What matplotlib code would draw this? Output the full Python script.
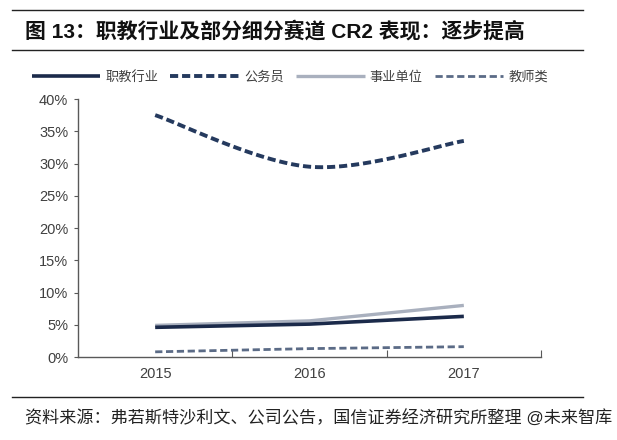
import numpy as np
import matplotlib
matplotlib.use("Agg")
import matplotlib.pyplot as plt
from matplotlib.lines import Line2D

plt.rcParams['font.family'] = ['Liberation Sans', 'Noto Sans CJK SC', 'DejaVu Sans']

years = ['2015', '2016', '2017']
zhijiao = [0.046, 0.051, 0.063]      # 职教行业
gongwuyuan = [0.375, 0.295, 0.335]   # 公务员
shiye = [0.049, 0.056, 0.080]        # 事业单位
jiaoshi = [0.008, 0.013, 0.016]      # 教师类
yticks = [0, 0.05, 0.10, 0.15, 0.20, 0.25, 0.30, 0.35, 0.40]
series_names = ['职教行业', '公务员', '事业单位', '教师类']


def smooth(xs, ys, n=40):
    xs = np.asarray(xs, float)
    ys = np.asarray(ys, float)
    P = np.column_stack([xs, ys])
    pts = []
    m = len(P)
    for i in range(m - 1):
        p0 = P[max(i - 1, 0)]
        p1 = P[i]
        p2 = P[i + 1]
        p3 = P[min(i + 2, m - 1)]
        c1 = p1 + (p2 - p0) / 6.0
        c2 = p2 - (p3 - p1) / 6.0
        t = np.linspace(0, 1, n)[:, None]
        seg = ((1 - t) ** 3) * p1 + 3 * ((1 - t) ** 2) * t * c1 + 3 * (1 - t) * t ** 2 * c2 + t ** 3 * p2
        pts.append(seg if i == 0 else seg[1:])
    pts = np.vstack(pts)
    return pts[:, 0], pts[:, 1]


fig = plt.figure(figsize=(6.17, 4.40), dpi=100)
ax = fig.add_axes([78 / 617, 1 - 357 / 440, (541 - 78) / 617, (357 - 99) / 440])

x = np.arange(len(years))
ax.plot(x, zhijiao, color='#1B2A4A', lw=2.6, solid_capstyle='butt', label=series_names[0], zorder=4)
sx, sy = smooth(x, gongwuyuan)
ax.plot(sx, sy, color='#253A5E', lw=2.8, ls=(0, (2.1, 1.0)), label=series_names[1], zorder=3)
ax.plot(x, shiye, color='#A9B0BE', lw=2.4, solid_capstyle='butt', label=series_names[2], zorder=3)
ax.plot(x, jiaoshi, color='#5B6B86', lw=2.0, ls=(0, (2.6, 1.3)), label=series_names[3], zorder=3)

ax.set_xlim(-0.5, 2.5)
ax.set_ylim(0, 0.40)
ax.set_yticks(yticks)
ax.set_yticklabels([f'{int(round(v * 100))}%' for v in yticks], fontsize=10.5, color='#404040')
ax.set_xticks([0.5, 1.5, 2.5])
ax.set_xticklabels([])
ax.tick_params(axis='x', direction='in', length=5, color='#595959')
ax.tick_params(axis='y', direction='out', length=3, color='#595959', pad=4)
for i, yl in enumerate(years):
    ax.text(i, -0.026, yl, ha='center', va='center', fontsize=10.5, color='#404040')

for s in ['top', 'right']:
    ax.spines[s].set_visible(False)
for s in ['left', 'bottom']:
    ax.spines[s].set_color('#595959')
    ax.spines[s].set_linewidth(1.0)

handles = ax.get_lines()
fig.legend(handles, series_names, loc='center', bbox_to_anchor=(290 / 617, 1 - 77 / 440), ncol=4,
           frameon=False, handlelength=5.2, columnspacing=0.9, handletextpad=0.4,
           prop={'family': ['Noto Sans CJK SC'], 'size': 9.5}, labelcolor='#404040')

# title and rules
for yy in [10, 50, 397]:
    fig.add_artist(Line2D([12 / 617, 583 / 617], [1 - yy / 440, 1 - yy / 440],
                          color='#222222', lw=1.0, transform=fig.transFigure))
fig.text(25 / 617, 1 - 31 / 440, '图 13：职教行业及部分细分赛道 CR2 表现：逐步提高',
         fontsize=15, fontweight='bold', ha='left', va='center', color='#111111')
fig.text(25 / 617, 1 - 418 / 440, '资料来源：弗若斯特沙利文、公司公告，国信证券经济研究所整理 @未来智库',
         fontsize=12.3, ha='left', va='center', color='#222222')

fig.savefig('out.png', dpi=100)
